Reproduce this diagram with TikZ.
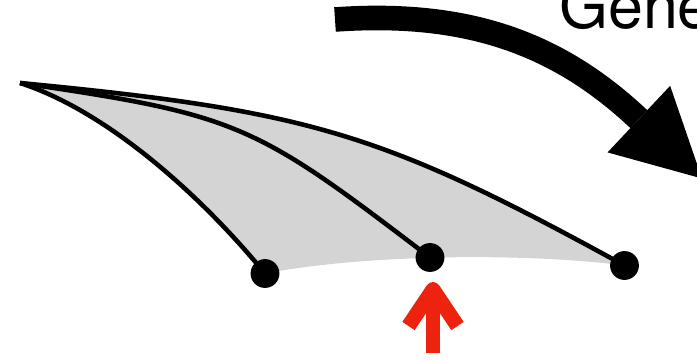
\documentclass[tikz,border=0pt]{standalone}
\usepackage{fontspec}
\setsansfont{TeX Gyre Heros}
\usetikzlibrary{
    arrows.meta
}
\tikzset{
  rib/.style    = {line width=3.9pt, black},
  dot/.style    = {circle, fill=black, inner sep=0pt, minimum size=24.6pt},
  fan/.style    = {fill=fanGray},
  bigarr/.style = {line width=21pt, -{Triangle[length=74pt, width=78pt, line width=0pt]}},
  redline/.style = {markRed, line width=12.7pt},
  redbarb/.style = {markRed, line width=12.7pt, line join=round}
}
\definecolor{fanGray}{RGB}{212,212,212}
\definecolor{markRed}{RGB}{237,35,15}

\begin{document}
\begin{tikzpicture}[x=0.03cm, y=-0.03cm]
\useasboundingbox (0,0) rectangle (697,360);
\clip (0,0) rectangle (697,360);
\coordinate (apex) at (20,83);
\coordinate (pl) at (265,273.5);
\coordinate (pm) at (430,257.5);
\coordinate (pr) at (624.5,265.5);
\fill[fan] (apex) .. controls (110,112) and (205,200) .. (pl)
  .. controls (360,255) and (520,252) .. (pr)
  .. controls (383,133) and (311,111) .. (apex);
\draw[rib] (apex) .. controls (110,112) and (205,200) .. (pl);
\draw[rib] (apex) .. controls (240,115) and (255,124) .. (pm);
\draw[rib] (apex) .. controls (311,111) and (383,133) .. (pr);
\node[dot] (left) at (pl) {};
\node[dot] (mid) at (pm) {};
\node[dot] (right) at (pr) {};
\coordinate (arrstart) at (335,19.5);
\coordinate (arrend) at (702,178.5);
\draw[bigarr] (arrstart) .. controls (470,10) and (560,45) .. (arrend);
\node[anchor=base west, inner sep=0pt, font=\sffamily\fontsize{53.6pt}{60pt}\selectfont] (title) at (559,28) {Gene};
\coordinate (ptrfoot) at (433,353);
\coordinate (ptrtip) at (433,289.5);
\draw[redline] (ptrfoot) -- (ptrtip);
\draw[redbarb] (ptrtip) ++(-24.5,36.5) -- (ptrtip) -- ++(24.5,36.5);
\end{tikzpicture}
\end{document}
